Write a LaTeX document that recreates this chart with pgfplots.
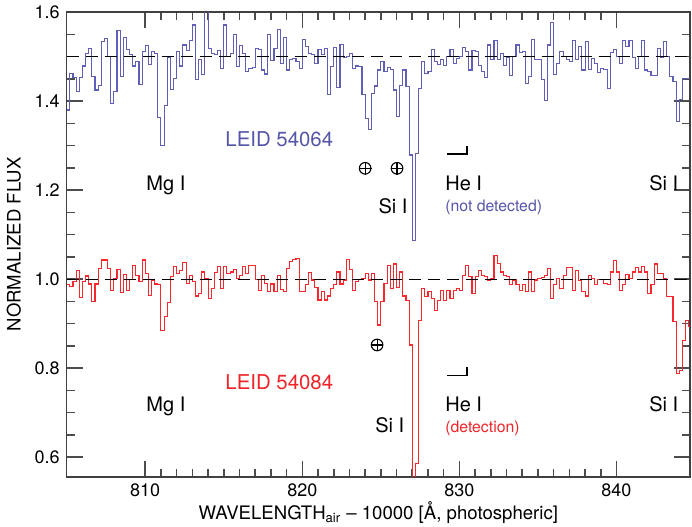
\documentclass[border=0pt]{standalone}
\usepackage{pgfplots}
\pgfplotsset{compat=1.18}
\usepackage{fontspec}
\setmainfont{TeX Gyre Heros}
\definecolor{specblue}{RGB}{85,85,170}
\definecolor{specred}{RGB}{240,35,40}
\definecolor{lineblue}{RGB}{95,95,185}
\definecolor{linered}{RGB}{250,40,45}

\begin{document}
\begin{tikzpicture}
\path[use as bounding box] (-33.35pt,-24.65pt) rectangle (312.65pt,238.35pt);
\begin{axis}[
  scale only axis, width=311.65pt, height=232.3pt,
  xmin=805, xmax=844.68, ymin=0.556, ymax=1.6,
  xtick={810,820,830,840}, minor x tick num=9,
  ytick={0.6,0.8,1.0,1.2,1.4,1.6}, minor y tick num=3,
  yticklabel style={/pgf/number format/fixed, /pgf/number format/fixed zerofill, /pgf/number format/precision=1},
  /pgf/number format/assume math mode=true,
  tick label style={font=\fontsize{9}{10}\selectfont},
  label style={font=\fontsize{9.3}{11}\selectfont},
  xlabel={WAVELENGTH\textsubscript{air} -- 10000 [Å, photospheric]},
  xlabel style={yshift=4.5pt},
  ylabel={NORMALIZED FLUX},
  axis line style={black!75, line width=0.8pt},
  every tick/.style={black!70, line width=0.8pt},
  major tick length=8pt, minor tick length=4pt,
]
% LEID 54064 (offset by +0.5)
\addplot[const plot, lineblue, line width=0.55pt] coordinates {
(805.0,1.380) (805.2,1.463) (805.4,1.454) (805.6,1.421) (805.8,1.454) (806.0,1.479) (806.2,1.507) (806.4,1.519) (806.6,1.455) (806.8,1.425)
(807.0,1.436) (807.2,1.534) (807.4,1.541) (807.6,1.500) (807.8,1.394) (808.0,1.421) (808.2,1.558) (808.4,1.455) (808.6,1.543) (808.8,1.515)
(809.0,1.504) (809.2,1.479) (809.4,1.489) (809.6,1.438) (809.8,1.511) (810.0,1.524) (810.2,1.483) (810.4,1.511) (810.6,1.507) (810.8,1.364)
(811.0,1.301) (811.2,1.390) (811.4,1.499) (811.6,1.427) (811.8,1.451) (812.0,1.511) (812.2,1.479) (812.4,1.526) (812.6,1.513) (812.8,1.536)
(813.0,1.571) (813.2,1.448) (813.4,1.493) (813.6,1.459) (813.8,1.620) (814.0,1.519) (814.2,1.507) (814.4,1.504) (814.6,1.513) (814.8,1.474)
(815.0,1.571) (815.2,1.500) (815.4,1.507) (815.6,1.550) (815.8,1.478) (816.0,1.524) (816.2,1.507) (816.4,1.466) (816.6,1.474) (816.8,1.475)
(817.0,1.519) (817.2,1.515) (817.4,1.470) (817.6,1.461) (817.8,1.549) (818.0,1.491) (818.2,1.519) (818.4,1.561) (818.6,1.485) (818.8,1.543)
(819.0,1.470) (819.2,1.494) (819.4,1.496) (819.6,1.490) (819.8,1.474) (820.0,1.539) (820.2,1.522) (820.4,1.507) (820.6,1.504) (820.8,1.485)
(821.0,1.515) (821.2,1.504) (821.4,1.519) (821.6,1.414) (821.8,1.478) (822.0,1.521) (822.2,1.431) (822.4,1.528) (822.6,1.499) (822.8,1.501)
(823.0,1.507) (823.2,1.474) (823.4,1.479) (823.6,1.478) (823.8,1.414) (824.0,1.361) (824.2,1.337) (824.4,1.418) (824.6,1.434) (824.8,1.470)
(825.0,1.489) (825.2,1.466) (825.4,1.475) (825.6,1.472) (825.8,1.425) (826.0,1.365) (826.2,1.436) (826.4,1.470) (826.6,1.433) (826.8,1.279)
(827.0,1.087) (827.2,1.283) (827.4,1.429) (827.6,1.489) (827.8,1.463) (828.0,1.466) (828.2,1.515) (828.4,1.489) (828.6,1.483) (828.8,1.493)
(829.0,1.481) (829.2,1.500) (829.4,1.516) (829.6,1.485) (829.8,1.496) (830.0,1.501) (830.2,1.520) (830.4,1.511) (830.6,1.470) (830.8,1.513)
(831.0,1.511) (831.2,1.481) (831.4,1.466) (831.6,1.454) (831.8,1.526) (832.0,1.493) (832.2,1.537) (832.4,1.493) (832.6,1.507) (832.8,1.481)
(833.0,1.499) (833.2,1.457) (833.4,1.500) (833.6,1.526) (833.8,1.509) (834.0,1.511) (834.2,1.439) (834.4,1.455) (834.6,1.539) (834.8,1.494)
(835.0,1.493) (835.2,1.448) (835.4,1.401) (835.6,1.526) (835.8,1.576) (836.0,1.459) (836.2,1.485) (836.4,1.511) (836.6,1.501) (836.8,1.493)
(837.0,1.489) (837.2,1.536) (837.4,1.493) (837.6,1.522) (837.8,1.470) (838.0,1.534) (838.2,1.472) (838.4,1.496) (838.6,1.485) (838.8,1.464)
(839.0,1.474) (839.2,1.472) (839.4,1.429) (839.6,1.509) (839.8,1.515) (840.0,1.501) (840.2,1.485) (840.4,1.536) (840.6,1.522) (840.8,1.537)
(841.0,1.499) (841.2,1.474) (841.4,1.500) (841.6,1.537) (841.8,1.470) (842.0,1.466) (842.2,1.457) (842.4,1.457) (842.6,1.519) (842.8,1.499)
(843.0,1.534) (843.2,1.500) (843.4,1.455) (843.6,1.444) (843.8,1.354) (844.0,1.403) (844.2,1.450) (844.4,1.450) (844.6,1.450) (845.0,1.450)
};
% LEID 54084
\addplot[const plot, linered, line width=0.55pt] coordinates {
(805.0,0.987) (805.2,0.984) (805.4,0.994) (805.6,1.020) (805.8,0.959) (806.0,0.994) (806.2,1.007) (806.4,0.989) (806.6,0.949) (806.8,0.989)
(807.0,1.024) (807.2,1.043) (807.4,1.043) (807.6,1.024) (807.8,0.975) (808.0,1.001) (808.2,1.022) (808.4,0.969) (808.6,1.011) (808.8,0.975)
(809.0,0.999) (809.2,1.031) (809.4,1.009) (809.6,0.994) (809.8,1.043) (810.0,1.013) (810.2,0.964) (810.4,0.998) (810.6,0.989) (810.8,0.987)
(811.0,0.884) (811.2,0.915) (811.4,0.947) (811.6,1.005) (811.8,1.029) (812.0,1.013) (812.2,1.020) (812.4,1.037) (812.6,0.990) (812.8,1.009)
(813.0,0.994) (813.2,0.962) (813.4,0.968) (813.6,1.016) (813.8,1.001) (814.0,0.957) (814.2,0.979) (814.4,1.014) (814.6,1.028) (814.8,0.979)
(815.0,1.028) (815.2,1.013) (815.4,1.016) (815.6,1.022) (815.8,1.001) (816.0,1.009) (816.2,1.029) (816.4,1.013) (816.6,1.031) (816.8,1.031)
(817.0,0.999) (817.2,0.975) (817.4,1.009) (817.6,0.990) (817.8,0.972) (818.0,0.989) (818.2,0.972) (818.4,1.009) (818.6,0.977) (818.8,0.972)
(819.0,1.024) (819.2,1.039) (819.4,1.044) (819.6,1.046) (819.8,0.972) (820.0,0.972) (820.2,0.987) (820.4,1.014) (820.6,0.998) (820.8,0.981)
(821.0,0.953) (821.2,0.972) (821.4,0.953) (821.6,0.962) (821.8,0.979) (822.0,0.987) (822.2,1.016) (822.4,0.989) (822.6,0.998) (822.8,1.044)
(823.0,1.022) (823.2,0.975) (823.4,0.994) (823.6,0.999) (823.8,1.001) (824.0,1.013) (824.2,0.998) (824.4,1.013) (824.6,0.949) (824.8,0.897)
(825.0,0.949) (825.2,0.990) (825.4,1.031) (825.6,0.979) (825.8,1.034) (826.0,0.981) (826.2,1.016) (826.4,0.962) (826.6,0.951) (826.8,0.852)
(827.0,0.500) (827.2,0.586) (827.4,0.908) (827.6,0.979) (827.8,0.960) (828.0,0.972) (828.2,0.957) (828.4,0.930) (828.6,0.951) (828.8,0.975)
(829.0,0.951) (829.2,0.975) (829.4,0.957) (829.6,0.975) (829.8,0.979) (830.0,0.975) (830.2,1.009) (830.4,1.031) (830.6,1.005) (830.8,0.968)
(831.0,1.005) (831.2,1.020) (831.4,1.009) (831.6,1.005) (831.8,0.998) (832.0,1.001) (832.2,1.054) (832.4,1.035) (832.6,1.016) (832.8,1.009)
(833.0,1.005) (833.2,0.987) (833.4,0.998) (833.6,0.987) (833.8,0.975) (834.0,0.988) (834.2,0.972) (834.4,1.016) (834.6,0.972) (834.8,0.998)
(835.0,1.001) (835.2,1.004) (835.4,1.009) (835.6,1.024) (835.8,0.957) (836.0,0.987) (836.2,1.001) (836.4,0.979) (836.6,1.009) (836.8,1.026)
(837.0,1.026) (837.2,0.975) (837.4,1.019) (837.6,0.996) (837.8,0.972) (838.0,0.962) (838.2,1.009) (838.4,1.001) (838.6,0.987) (838.8,0.999)
(839.0,0.999) (839.2,0.990) (839.4,0.987) (839.6,1.016) (839.8,1.041) (840.0,1.016) (840.2,0.975) (840.4,0.987) (840.6,1.011) (840.8,1.001)
(841.0,1.016) (841.2,1.026) (841.4,1.016) (841.6,1.028) (841.8,1.016) (842.0,0.968) (842.2,0.987) (842.4,1.034) (842.6,1.013) (842.8,1.013)
(843.0,1.001) (843.2,0.960) (843.4,0.960) (843.6,0.904) (843.8,0.788) (844.0,0.795) (844.2,0.863) (844.4,0.906) (844.6,0.893) (845.0,0.893)
};
% continuum levels
\addplot[black, line width=0.6pt, dash pattern=on 6pt off 3.5pt] coordinates {(805,1.5) (844.68,1.5)};
\addplot[black, line width=0.6pt, dash pattern=on 6pt off 3.5pt] coordinates {(805,1.0) (844.68,1.0)};

% labels, upper spectrum
\node[specblue, anchor=base west, inner sep=0, font=\fontsize{10.2}{12}\selectfont] at (axis cs:815.08,1.299) {LEID 54064};
\node[anchor=base west, inner sep=0, font=\fontsize{10}{12}\selectfont] at (axis cs:810.05,1.200) {Mg I};
\node[anchor=base west, inner sep=0, font=\fontsize{10}{12}\selectfont] at (axis cs:824.83,1.148) {Si I};
\node[anchor=base west, inner sep=0, font=\fontsize{10}{12}\selectfont] at (axis cs:829.08,1.200) {He I};
\node[specblue, anchor=base west, inner sep=0, font=\fontsize{7.9}{9}\selectfont] at (axis cs:829.08,1.153) {(not detected)};
\node[anchor=base west, inner sep=0, font=\fontsize{10}{12}\selectfont] at (axis cs:842.07,1.200) {Si I};
\node[draw, circle, minimum size=5.8pt, inner sep=0, line width=0.55pt] (t1) at (axis cs:824.0,1.249) {};
\draw[line width=0.55pt] (t1.north) -- (t1.south) (t1.west) -- (t1.east);
\node[draw, circle, minimum size=5.8pt, inner sep=0, line width=0.55pt] (t2) at (axis cs:826.03,1.249) {};
\draw[line width=0.55pt] (t2.north) -- (t2.south) (t2.west) -- (t2.east);
\draw[black, line width=0.7pt] (axis cs:829.2,1.281) -- (axis cs:830.48,1.281) -- (axis cs:830.48,1.299);

% labels, lower spectrum
\node[specred, anchor=base west, inner sep=0, font=\fontsize{10.2}{12}\selectfont] at (axis cs:815.08,0.752) {LEID 54084};
\node[anchor=base west, inner sep=0, font=\fontsize{10}{12}\selectfont] at (axis cs:810.05,0.702) {Mg I};
\node[anchor=base west, inner sep=0, font=\fontsize{10}{12}\selectfont] at (axis cs:824.62,0.655) {Si I};
\node[anchor=base west, inner sep=0, font=\fontsize{10}{12}\selectfont] at (axis cs:829.08,0.702) {He I};
\node[specred, anchor=base west, inner sep=0, font=\fontsize{7.9}{9}\selectfont] at (axis cs:829.08,0.655) {(detection)};
\node[anchor=base west, inner sep=0, font=\fontsize{10}{12}\selectfont] at (axis cs:842.07,0.702) {Si I};
\node[draw, circle, minimum size=5.8pt, inner sep=0, line width=0.55pt] (t3) at (axis cs:824.76,0.852) {};
\draw[line width=0.55pt] (t3.north) -- (t3.south) (t3.west) -- (t3.east);
\draw[black, line width=0.7pt] (axis cs:829.2,0.784) -- (axis cs:830.48,0.784) -- (axis cs:830.48,0.802);
\end{axis}
\end{tikzpicture}
\end{document}
